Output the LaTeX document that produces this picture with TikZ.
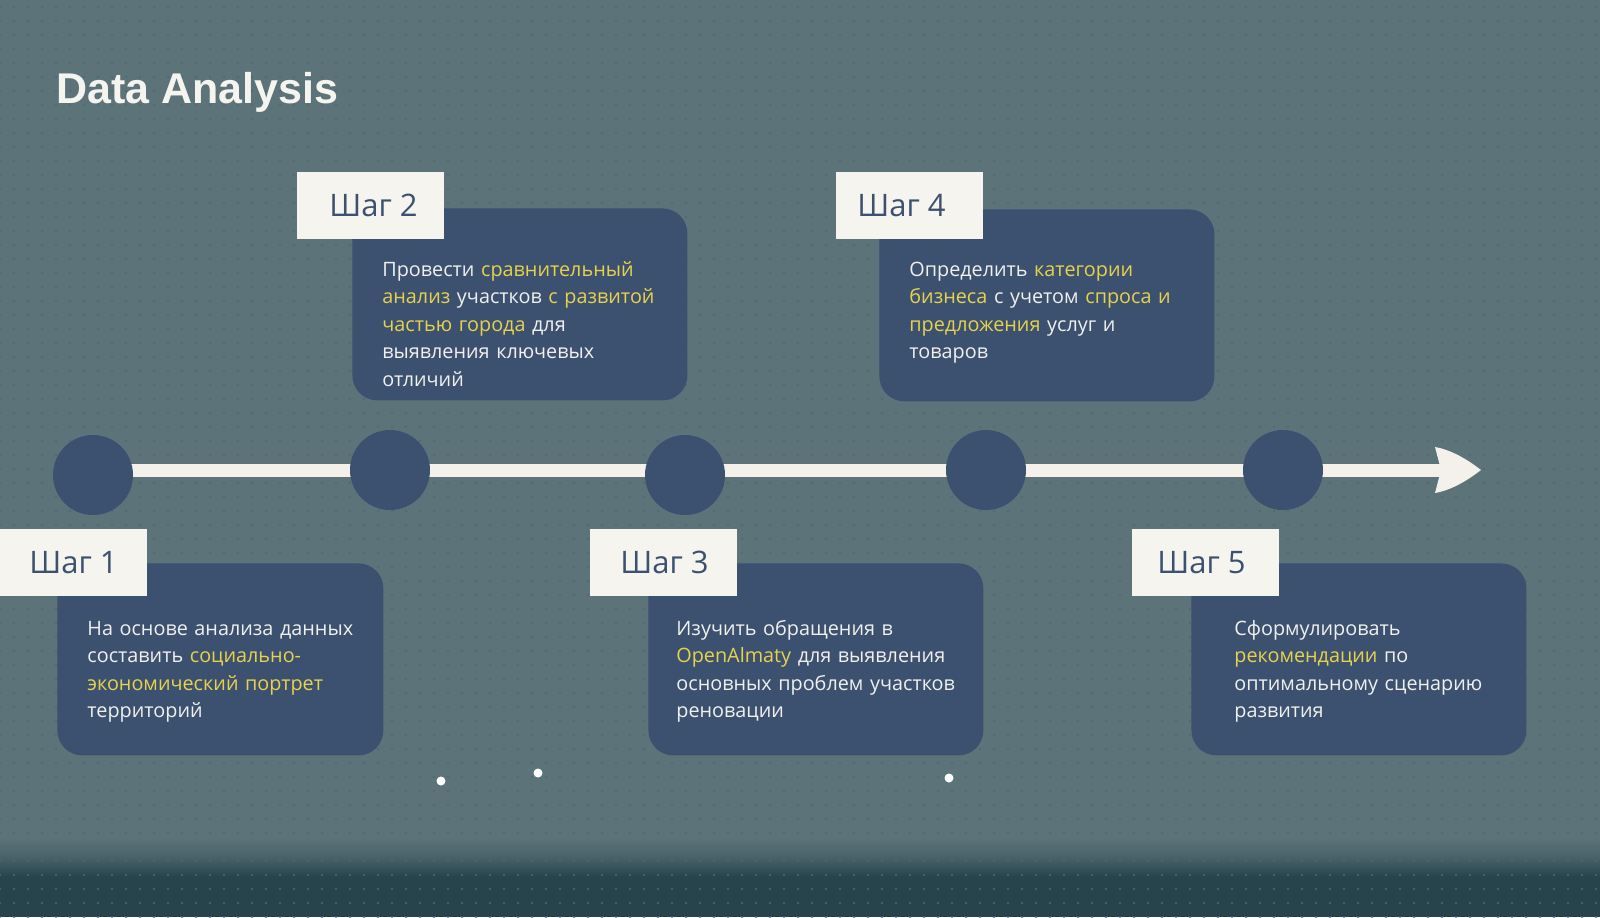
\documentclass[tikz,border=0pt]{standalone}
\usepackage{fontspec}
\setmainfont{Open Sans}
\newfontfamily\titlefont{Liberation Sans}
\usetikzlibrary{patterns}
\definecolor{bg}{RGB}{91,115,121}
\definecolor{bgmid}{RGB}{72,97,104}
\definecolor{bgdark}{RGB}{39,68,76}
\definecolor{dotc}{RGB}{82,104,110}
\definecolor{boxc}{RGB}{60,81,112}
\definecolor{labelc}{RGB}{245,244,238}
\definecolor{txtc}{RGB}{240,240,236}
\definecolor{linec}{RGB}{243,241,234}
\definecolor{yelc}{RGB}{230,210,76}
\newcommand\yel[1]{\textcolor{yelc}{#1}}
\pgfdeclarepatternformonly{bgdots}{\pgfqpoint{-1pt}{-1pt}}{\pgfqpoint{1pt}{1pt}}{\pgfqpoint{7pt}{7pt}}{\pgfpathcircle{\pgfqpoint{0pt}{0pt}}{0.55pt}\pgfusepath{fill}}
\tikzset{
  stepbox/.style={fill=boxc, rounded corners=12.5pt, minimum width=167.5pt, minimum height=96pt, anchor=north west, inner sep=0pt},
  steplabel/.style={fill=labelc, minimum width=73.5pt, minimum height=33.5pt, anchor=north west, inner sep=0pt},
  labeltext/.style={text=boxc, font=\fontsize{15.5pt}{18pt}\selectfont, anchor=base west, inner sep=0pt},
  bodytext/.style={text=txtc, font=\fontsize{9.9pt}{13.75pt}\selectfont, anchor=base west, inner sep=0pt, align=left, text width=200pt},
  tdot/.style={circle, fill=boxc, minimum size=40pt, inner sep=0pt},
  wdot/.style={circle, fill=white, minimum size=4.5pt, inner sep=0pt},
  tl/.style={draw=linec, line width=6.5pt}
}
\begin{document}
\begin{tikzpicture}[x=0.5pt, y=-0.5pt]
\useasboundingbox (0,0) rectangle (1600,917);
% background
\fill[bg] (0,0) rectangle (1600,917);
\shade[top color=bg, bottom color=bgmid] (0,838) rectangle (1600,858);
\shade[top color=bgmid, bottom color=bgdark] (0,857.5) rectangle (1600,876);
\fill[bgdark] (0,875.5) rectangle (1600,917);
\fill[pattern=bgdots, pattern color=dotc] (0,0) rectangle (1600,917);
% title
\node[anchor=base west, inner sep=0pt, text=labelc, font=\titlefont\bfseries\fontsize{21.5pt}{25pt}\selectfont] (title) at (56,103) {Data Analysis};
% timeline
\coordinate (lstart) at (93,470);
\coordinate (lend) at (1441,470);
\coordinate (tip) at (1481,470);
\coordinate (hTop) at (1435,447);
\coordinate (hBot) at (1435,493);
\draw[tl] (lstart) -- (lend);
\fill[linec] (tip) .. controls (1468,460) and (1452,450) .. (hTop) -- (lend) -- (hBot) .. controls (1452,490) and (1468,480) .. (tip) -- cycle;
\node[tdot] (c1) at (93,475) {};
\node[tdot] (c2) at (390,470) {};
\node[tdot] (c3) at (685,475) {};
\node[tdot] (c4) at (986,470) {};
\node[tdot] (c5) at (1283,470) {};
% boxes
\node[stepbox, minimum width=163pt] (b1) at (57,563) {};
\node[stepbox] (b2) at (352,208) {};
\node[stepbox] (b3) at (648,563) {};
\node[stepbox] (b4) at (879,209) {};
\node[stepbox] (b5) at (1191,563) {};
% labels
\node[steplabel] (l1) at (0,529) {};
\node[steplabel] (l2) at (297,172) {};
\node[steplabel] (l3) at (590,529) {};
\node[steplabel] (l4) at (836,172) {};
\node[steplabel] (l5) at (1132,529) {};
\node[labeltext] (lt1) at (29,573.5) {Шаг 1};
\node[labeltext] (lt2) at (329,216.5) {Шаг 2};
\node[labeltext] (lt3) at (620,573.5) {Шаг 3};
\node[labeltext] (lt4) at (857,216.5) {Шаг 4};
\node[labeltext] (lt5) at (1157,573.5) {Шаг 5};
% texts
\node[bodytext] (t1) at (87,635) {На основе анализа данных\\составить \yel{социально-}\\\yel{экономический портрет}\\территорий};
\node[bodytext] (t2) at (382,276) {Провести \yel{сравнительный}\\\yel{анализ} участков \yel{с развитой}\\\yel{частью города} для\\выявления ключевых\\отличий};
\node[bodytext] (t3) at (676,635) {Изучить обращения в\\\yel{OpenAlmaty} для выявления\\основных проблем участков\\реновации};
\node[bodytext] (t4) at (909,276) {Определить \yel{категории}\\\yel{бизнеса} с учетом \yel{спроса и}\\\yel{предложения} услуг и\\товаров};
\node[bodytext] (t5) at (1234,635) {Сформулировать\\\yel{рекомендации} по\\оптимальному сценарию\\развития};
% white dots
\node[wdot] (d1) at (441,781) {};
\node[wdot] (d2) at (538,773) {};
\node[wdot] (d3) at (949,778) {};
\end{tikzpicture}
\end{document}
